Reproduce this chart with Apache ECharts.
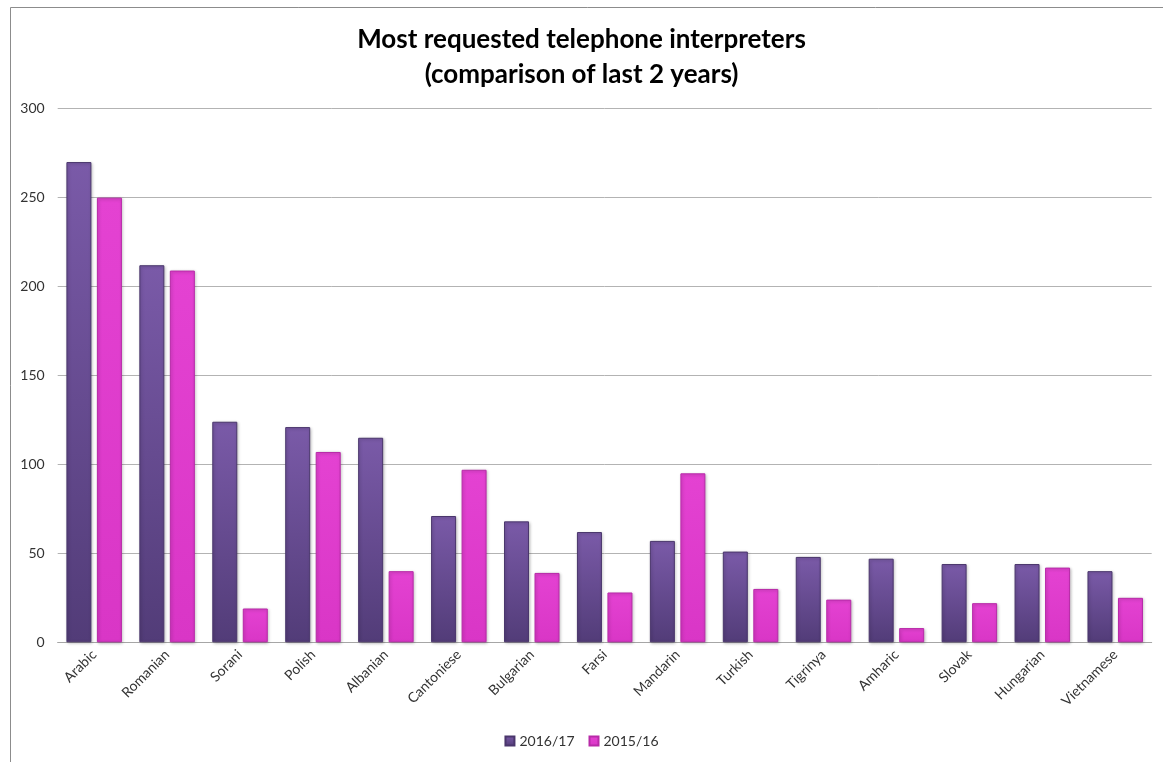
<!DOCTYPE html>
<html>
<head>
<meta charset="utf-8">
<script src="https://cdn.jsdelivr.net/npm/echarts@6/dist/echarts.min.js"></script>
<style>
  html, body { margin: 0; padding: 0; background: #fff; }
  #chart { width: 1163px; height: 762px; }
</style>
</head>
<body>
<div id="chart"></div>
<script>
// Languages and request counts for the two reporting years
const languages = ['Arabic', 'Romanian', 'Sorani', 'Polish', 'Albanian', 'Cantoniese', 'Bulgarian',
  'Farsi', 'Mandarin', 'Turkish', 'Tigrinya', 'Amharic', 'Slovak', 'Hungarian', 'Vietnamese'];
const year2016_17 = [270, 212, 124, 121, 115, 71, 68, 62, 57, 51, 48, 47, 44, 44, 40];
const year2015_16 = [250, 209, 19, 107, 40, 97, 39, 28, 95, 30, 24, 8, 22, 42, 25];
const seriesNames = ['2016/17', '2015/16'];

const FONT = 'Lato, "Open Sans", sans-serif';

function barStyle(top, bottom, edge) {
  return {
    color: new echarts.graphic.LinearGradient(0, 0, 0, 1, [
      { offset: 0, color: top },
      { offset: 1, color: bottom }
    ]),
    borderColor: edge,
    borderWidth: 1,
    shadowColor: 'rgba(0,0,0,0.25)',
    shadowBlur: 3,
    shadowOffsetX: 1,
    shadowOffsetY: 1
  };
}

const chart = echarts.init(document.getElementById('chart'), null, { renderer: 'canvas' });
chart.setOption({
  backgroundColor: '#ffffff',
  animation: false,
  graphic: [{
    type: 'rect',
    shape: { x: 10.5, y: 7.5, width: 1200, height: 800 },
    style: { fill: 'none', stroke: '#8c8c8c', lineWidth: 1 },
    silent: true
  }],
  title: {
    text: 'Most requested telephone interpreters\n(comparison of last 2 years)',
    left: 'center',
    top: 17,
    textStyle: {
      fontFamily: FONT,
      fontWeight: 'bold',
      fontSize: 26,
      lineHeight: 35,
      color: '#000'
    }
  },
  legend: {
    bottom: 9,
    left: 'center',
    itemWidth: 9,
    itemHeight: 9,
    itemGap: 14,
    icon: 'rect',
    textStyle: { fontFamily: FONT, fontSize: 14, color: '#333' },
    data: seriesNames
  },
  grid: {
    left: 57.7,
    right: 11.3,
    top: 108.7,
    bottom: 119.7
  },
  xAxis: {
    type: 'category',
    data: languages,
    axisLine: { lineStyle: { color: '#a6a6a6', width: 1 } },
    axisTick: { show: false },
    axisLabel: {
      rotate: 45,
      interval: 0,
      margin: 10,
      fontFamily: FONT,
      fontSize: 14,
      color: '#333'
    }
  },
  yAxis: {
    type: 'value',
    min: 0,
    max: 300,
    interval: 50,
    axisLine: { show: false },
    axisTick: { show: false },
    axisLabel: { fontFamily: FONT, fontSize: 14, color: '#333', margin: 13 },
    splitLine: { lineStyle: { color: '#b3b3b3', width: 1 } }
  },
  series: [
    {
      name: seriesNames[0],
      type: 'bar',
      data: year2016_17,
      barWidth: 25,
      barGap: '22%',
      itemStyle: barStyle('#7a5aa8', '#523c78', '#4a366c')
    },
    {
      name: seriesNames[1],
      type: 'bar',
      data: year2015_16,
      barWidth: 25,
      itemStyle: barStyle('#e442d2', '#d936c6', '#b82aa8')
    }
  ]
});
</script>
</body>
</html>
